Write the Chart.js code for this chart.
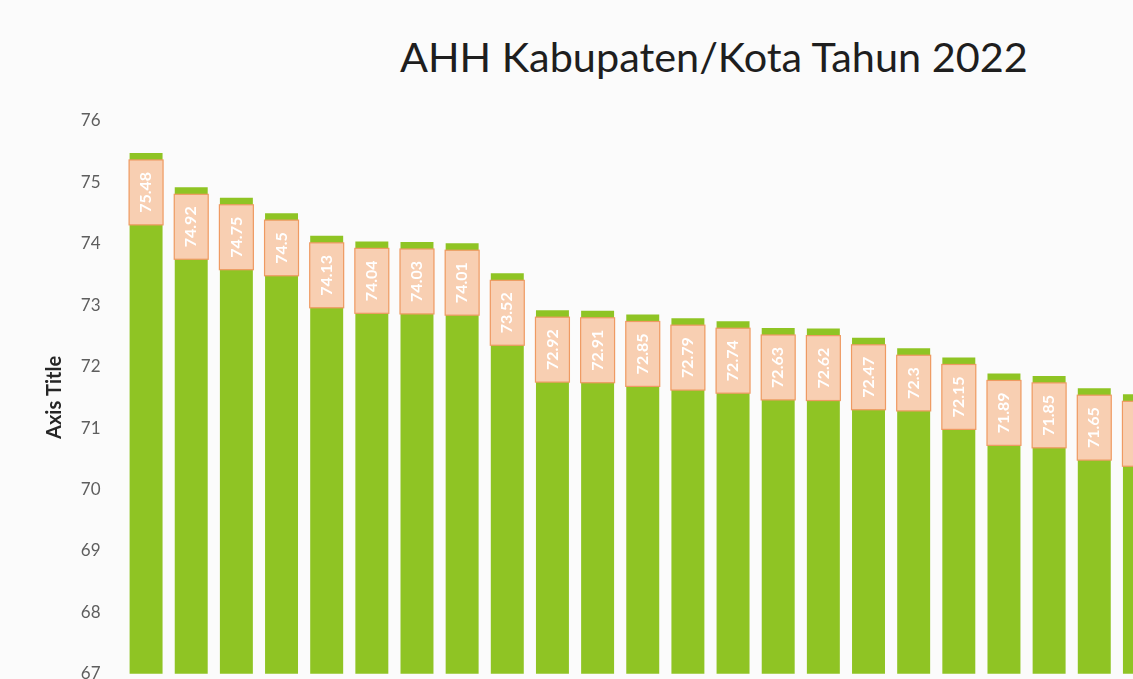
<!DOCTYPE html>
<html>
<head>
<meta charset="utf-8">
<script src="https://cdn.jsdelivr.net/npm/chart.js@4"></script>
<style>
  html, body { margin: 0; padding: 0; background: #fbfbfb; overflow: hidden; }
  #wrap { position: relative; width: 1133px; height: 679px; overflow: hidden; }
  #chart { position: absolute; left: 0; top: 0; }
  #title {
    position: absolute; left: 400px; top: 33px;
    font-family: Lato, "Open Sans", sans-serif; font-size: 41.4px; line-height: 46px;
    color: #1e1e1e; white-space: nowrap;
  }
</style>
</head>
<body>
<div id="wrap">
  <div id="title">AHH Kabupaten/Kota Tahun 2022</div>
  <canvas id="chart" width="1162" height="699"></canvas>
</div>
<script>
// angka harapan hidup per kabupaten/kota (nama tidak terlihat di gambar)
const kabKota = ["K1", "K2", "K3", "K4", "K5", "K6", "K7", "K8", "K9", "K10", "K11", "K12",
  "K13", "K14", "K15", "K16", "K17", "K18", "K19", "K20", "K21", "K22", "K23"];
const ahh = [75.48, 74.92, 74.75, 74.5, 74.13, 74.04, 74.03, 74.01, 73.52, 72.92, 72.91, 72.85,
  72.79, 72.74, 72.63, 72.62, 72.47, 72.3, 72.15, 71.89, 71.85, 71.65, 71.55];
const yMin = 67;
const yMax = 76;

// kotak label data di ujung atas batang (seperti label Excel)
const labelBoxes = {
  id: "labelBoxes",
  afterDatasetsDraw(chart) {
    const ctx = chart.ctx;
    const meta = chart.getDatasetMeta(0);
    ctx.save();
    ctx.font = "bold 16px Lato";
    meta.data.forEach((bar, i) => {
      const text = String(ahh[i]);
      const tw = ctx.measureText(text).width;
      const h = tw + 24;
      const w = bar.width + 1;
      const x = bar.x - w / 2;
      const y = bar.y + 7;
      ctx.fillStyle = "#f8cfb2";
      ctx.fillRect(x, y, w, h);
      ctx.strokeStyle = "#ef9a62";
      ctx.lineWidth = 1.2;
      ctx.strokeRect(x, y, w, h);
      ctx.save();
      ctx.translate(bar.x, y + h / 2);
      ctx.rotate(-Math.PI / 2);
      ctx.fillStyle = "#ffffff";
      ctx.textAlign = "center";
      ctx.textBaseline = "middle";
      ctx.fillText(text, 0, 0);
      ctx.restore();
    });
    ctx.restore();
  }
};

new Chart(document.getElementById("chart"), {
  type: "bar",
  data: {
    labels: kabKota,
    datasets: [{
      data: ahh,
      backgroundColor: "#8fc424",
      borderWidth: 0,
      barPercentage: 0.73,
      categoryPercentage: 1
    }]
  },
  options: {
    responsive: false,
    animation: false,
    layout: { padding: { top: 121, bottom: 7, left: 0, right: 0 } },
    plugins: {
      legend: { display: false },
      tooltip: { enabled: false }
    },
    scales: {
      x: { display: false },
      y: {
        min: yMin,
        max: yMax,
        afterFit: (scale) => { scale.width = 123.5; },
        grid: { display: false },
        border: { display: false },
        ticks: {
          stepSize: 1,
          padding: 15,
          color: "#5e5e5e",
          font: { family: "Lato", size: 17 }
        },
        title: {
          display: true,
          text: "Axis Title",
          color: "#262626",
          padding: { top: 43, bottom: 0 },
          font: { family: "Lato", size: 20, weight: "bold" }
        }
      }
    }
  },
  plugins: [labelBoxes]
});
</script>
</body>
</html>
